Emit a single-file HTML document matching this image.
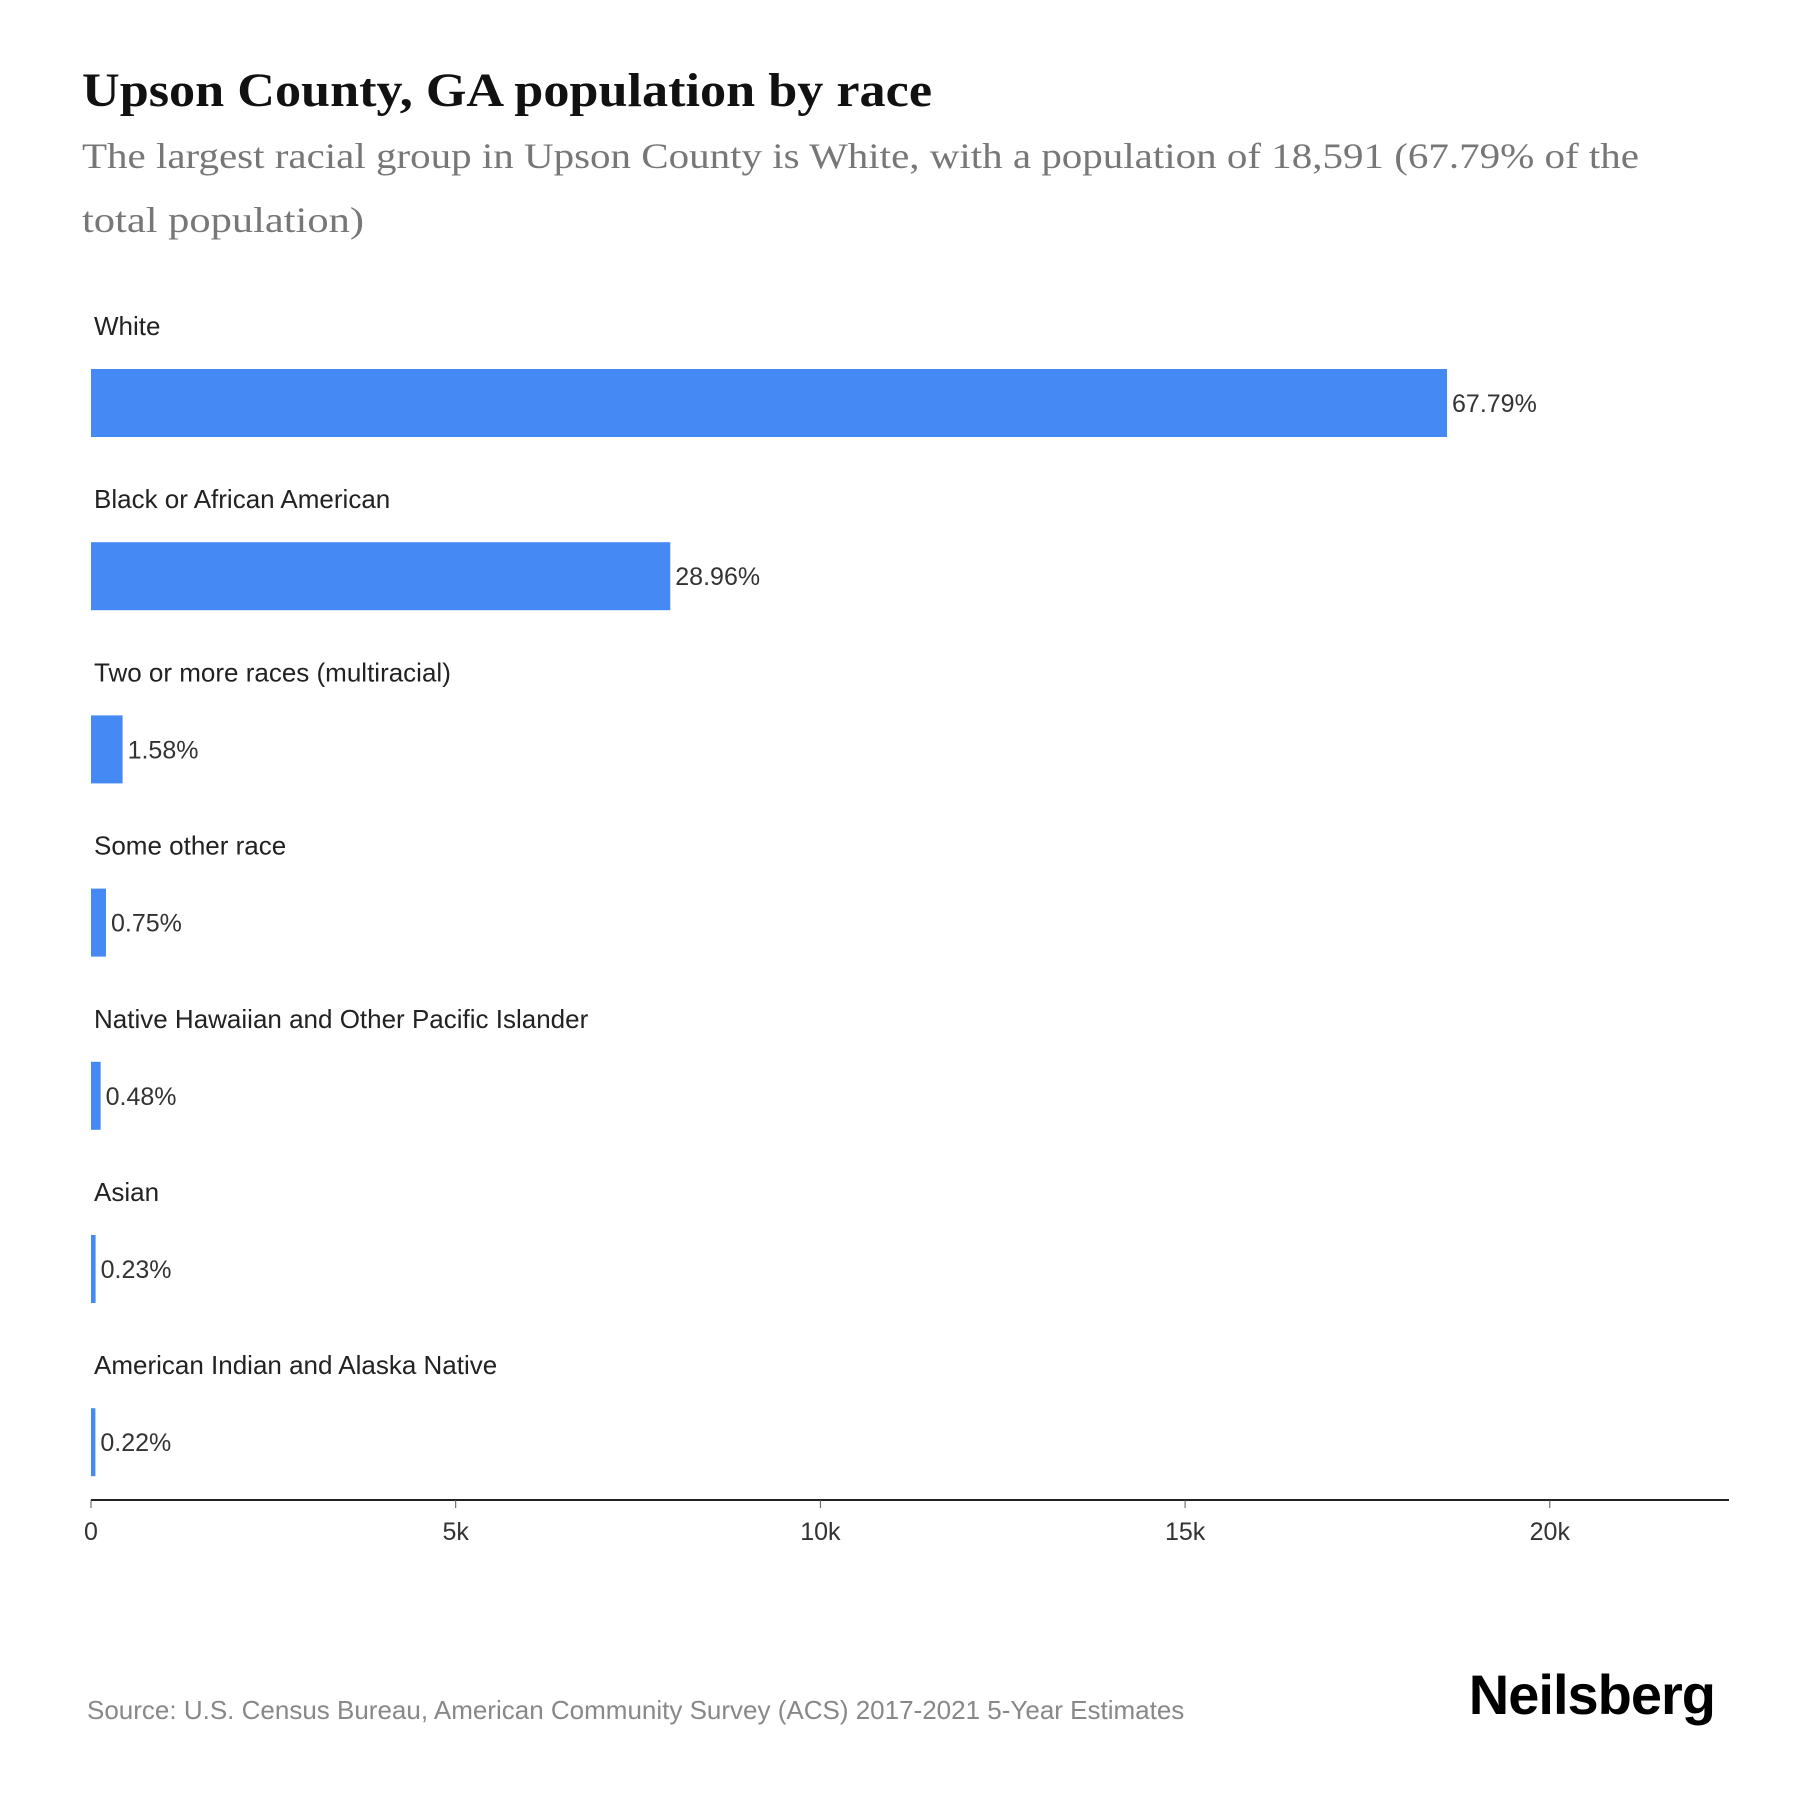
<!DOCTYPE html>
<html><head><meta charset="utf-8"><style>
body{margin:0;background:#fff;}
svg{display:block}
</style></head><body>
<svg width="1800" height="1800" xmlns="http://www.w3.org/2000/svg">
<text x="82" y="106" font-family="Liberation Serif, serif" font-weight="bold" font-size="48" fill="#111" textLength="850" lengthAdjust="spacingAndGlyphs">Upson County, GA population by race</text>
<text font-family="Liberation Serif, serif" font-size="36" fill="#777"><tspan x="82" y="168" textLength="1557" lengthAdjust="spacingAndGlyphs">The largest racial group in Upson County is White, with a population of 18,591 (67.79% of the</tspan><tspan x="82" y="232" textLength="282" lengthAdjust="spacingAndGlyphs">total population)</tspan></text>
<g id="bars"></g>
<g id="axis"></g>
<text x="87" y="1719" font-family="Liberation Sans, sans-serif" font-size="26" fill="#888">Source: U.S. Census Bureau, American Community Survey (ACS) 2017-2021 5-Year Estimates</text>
<text x="1715" y="1714" text-anchor="end" font-family="Liberation Sans, sans-serif" font-weight="bold" font-size="56" fill="#000" letter-spacing="-1">Neilsberg</text>
</svg>
<script>
const categories=["White","Black or African American","Two or more races (multiracial)","Some other race","Native Hawaiian and Other Pacific Islander","Asian","American Indian and Alaska Native"];
const values=[18591,7942,433,206,132,63,60];
const percentLabels=["67.79%","28.96%","1.58%","0.75%","0.48%","0.23%","0.22%"];
const tickValues=[0,5000,10000,15000,20000];
const tickLabels=["0","5k","10k","15k","20k"];
const NS="http://www.w3.org/2000/svg";
const x0=91, pxPer=364.7/5000;
function xs(v){return x0+v*pxPer;}
function rowTop(i){return 369+i*173.2;}
const bars=document.getElementById('bars');
categories.forEach((c,i)=>{
  const t=document.createElementNS(NS,'text');
  t.setAttribute('x',94);t.setAttribute('y',rowTop(i)-34);
  t.setAttribute('font-family','Liberation Sans, sans-serif');t.setAttribute('font-size','26');t.setAttribute('fill','#222');
  t.textContent=c;
  
  
  bars.appendChild(t);
  const r=document.createElementNS(NS,'rect');
  const w=Math.max(xs(values[i])-x0,3);
  r.setAttribute('x',x0);r.setAttribute('y',rowTop(i));r.setAttribute('width',w);r.setAttribute('height',68);r.setAttribute('fill','#4589F4');
  
  
  bars.appendChild(r);
  const v=document.createElementNS(NS,'text');
  v.setAttribute('x',x0+w+5);v.setAttribute('y',rowTop(i)+43);
  v.setAttribute('font-family','Liberation Sans, sans-serif');v.setAttribute('font-size','25');v.setAttribute('fill','#333');
  v.textContent=percentLabels[i];
  
  
  bars.appendChild(v);
});
const ax=document.getElementById('axis');
const line=document.createElementNS(NS,'line');
line.setAttribute('x1',x0);line.setAttribute('x2',1729);line.setAttribute('y1',1500);line.setAttribute('y2',1500);line.setAttribute('stroke','#222');line.setAttribute('stroke-width','2');


ax.appendChild(line);
tickValues.forEach((tv,i)=>{
  const tk=document.createElementNS(NS,'line');
  tk.setAttribute('x1',xs(tv));tk.setAttribute('x2',xs(tv));tk.setAttribute('y1',1500);tk.setAttribute('y2',1508);tk.setAttribute('stroke','#555');
  
  
  ax.appendChild(tk);
  const t=document.createElementNS(NS,'text');
  t.setAttribute('x',xs(tv));t.setAttribute('y',1540);t.setAttribute('text-anchor','middle');
  t.setAttribute('font-family','Liberation Sans, sans-serif');t.setAttribute('font-size','25');t.setAttribute('fill','#333');
  t.textContent=tickLabels[i];
  
  
  ax.appendChild(t);
});
</script>
</body></html>
